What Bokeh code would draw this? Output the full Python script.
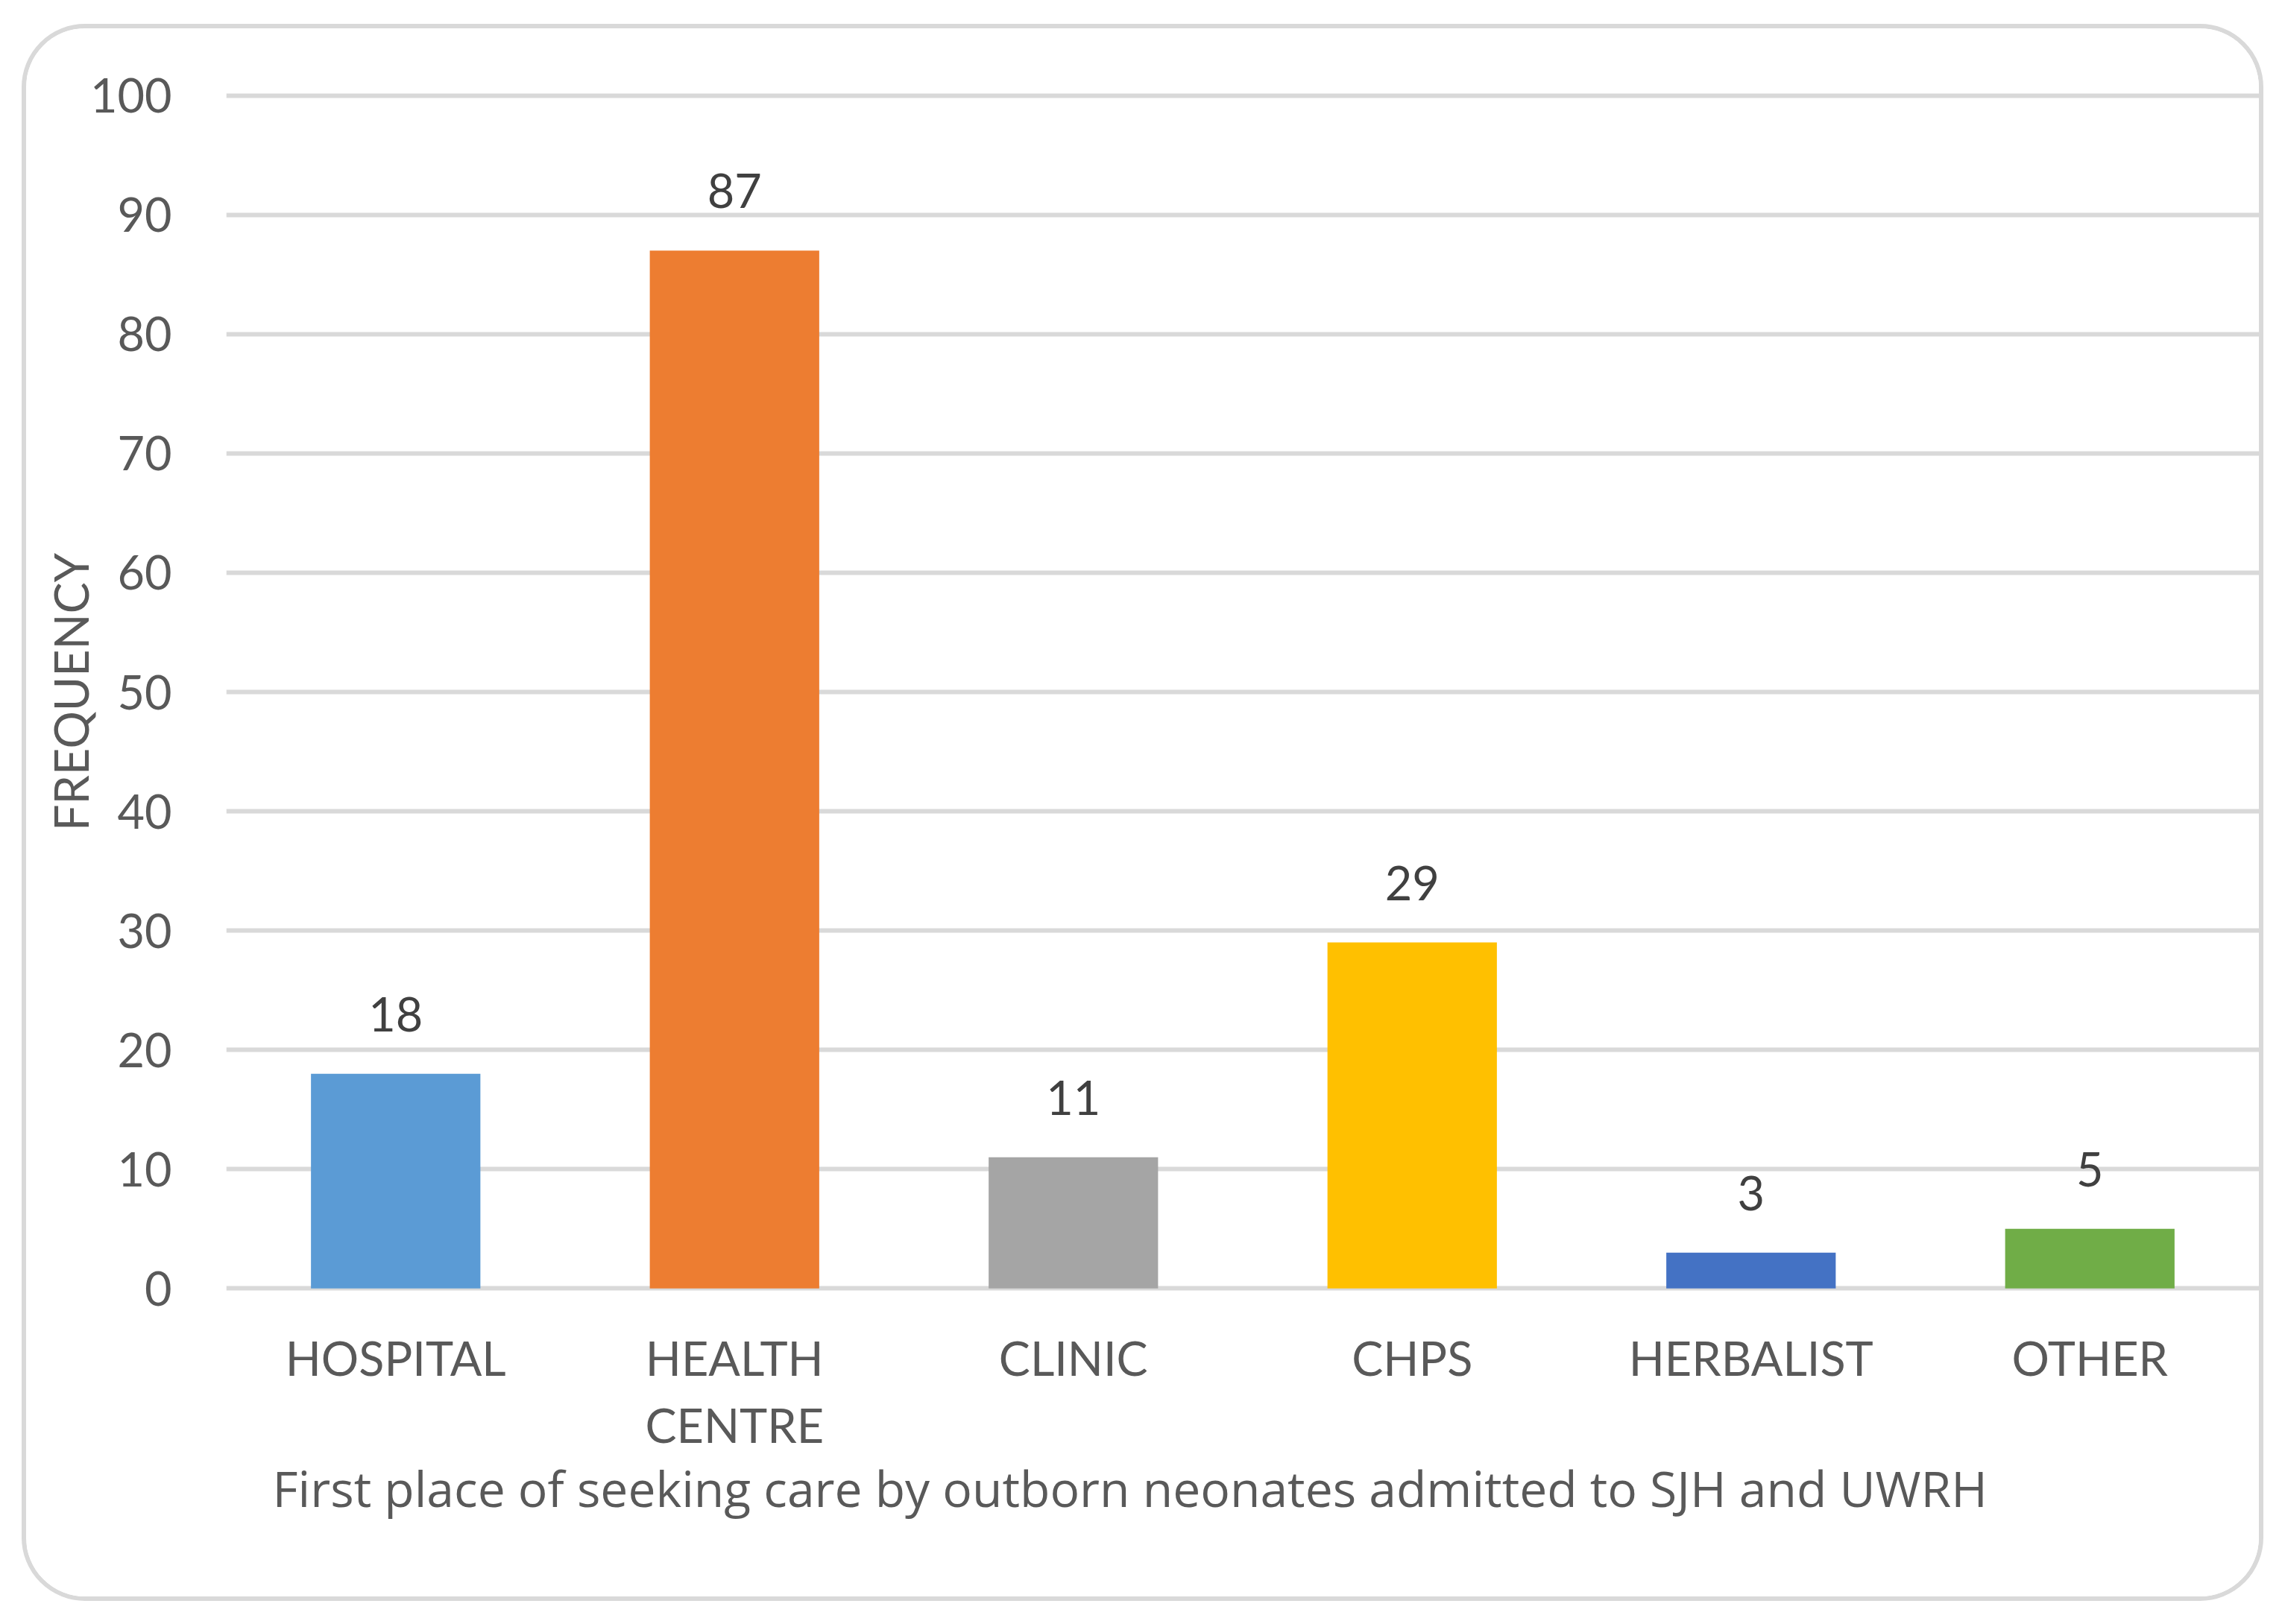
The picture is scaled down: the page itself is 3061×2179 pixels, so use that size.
from bokeh.plotting import figure
from bokeh.models import ColumnDataSource, LabelSet, FactorRange, FixedTicker, CategoricalAxis, Title
from bokeh.embed import file_html
from bokeh.resources import INLINE
from bokeh.core.properties import value

categories = ["HOSPITAL", "HEALTH CENTRE", "CLINIC", "CHPS", "HERBALIST", "OTHER"]
frequencies = [18, 87, 11, 29, 3, 5]
bar_colors = ["#5B9BD5", "#ED7D31", "#A5A5A5", "#FFC000", "#4472C4", "#70AD47"]
y_ticks = [0, 10, 20, 30, 40, 50, 60, 70, 80, 90, 100]
y_title = "FREQUENCY"
x_title = "First place of seeking care by outborn neonates admitted to SJH and UWRH"

# category names wrapped on two lines, as in the original chart
label_line1 = [c.split(" ")[0] for c in categories]
label_line2 = [c.split(" ")[1] if " " in c else " " * (i + 1) for i, c in enumerate(categories)]

FONT = "Lato"
FS = "63px"
TXT = "#595959"

source = ColumnDataSource(dict(
    cat=label_line1,
    freq=frequencies,
    color=bar_colors,
    label=[str(v) for v in frequencies],
))

p = figure(
    x_range=FactorRange(*label_line1),
    y_range=(-0.3, 100.3),
    width=3007, height=2116,
    output_backend="svg", toolbar_location=None,
    min_border_left=268, min_border_right=12,
    min_border_top=85, min_border_bottom=421,
)
p.extra_x_ranges = {"line2": FactorRange(*label_line2)}
p.margin = (32, 0, 0, 29)
p.styles = {"border": "6px solid #d9d9d9", "border-radius": "85px", "overflow": "hidden"}
p.outline_line_color = None
p.background_fill_color = "white"
p.border_fill_color = "white"

p.vbar(x="cat", top="freq", bottom=0, width=0.5, color="color", line_color=None, source=source)

labels = LabelSet(x="cat", y="freq", text="label", source=source, y_offset=57,
                  text_align="center", text_baseline="alphabetic",
                  text_font=value(FONT), text_font_size=value(FS), text_color="#404040")
p.add_layout(labels)

p.xgrid.grid_line_color = None
p.ygrid.grid_line_color = "#d9d9d9"
p.ygrid.grid_line_width = 6
p.ygrid.ticker = FixedTicker(ticks=y_ticks)

p.yaxis.ticker = FixedTicker(ticks=y_ticks)
p.yaxis.axis_line_color = None
p.yaxis.major_tick_line_color = None
p.yaxis.minor_tick_line_color = None
p.yaxis.major_tick_out = 0
p.yaxis.major_tick_in = 0
p.yaxis.major_label_standoff = 73
p.yaxis.major_label_text_font = FONT
p.yaxis.major_label_text_font_size = FS
p.yaxis.major_label_text_color = TXT
p.yaxis.axis_label = y_title
p.yaxis.axis_label_text_font = FONT
p.yaxis.axis_label_text_font_size = FS
p.yaxis.axis_label_text_font_style = "normal"
p.yaxis.axis_label_text_color = TXT
p.yaxis.axis_label_standoff = -14

def style_xaxis(ax, standoff):
    ax.axis_line_color = None
    ax.major_tick_line_color = None
    ax.major_tick_out = 0
    ax.major_tick_in = 0
    ax.major_label_standoff = standoff
    ax.major_label_text_font = FONT
    ax.major_label_text_font_size = FS
    ax.major_label_text_color = TXT

style_xaxis(p.xaxis[0], 50)

x2 = CategoricalAxis(x_range_name="line2")
style_xaxis(x2, 12)
p.add_layout(x2, "below")

title = Title(text=x_title, align="left", offset=62, standoff=-5,
              text_font="Open Sans", text_font_size="66px", text_font_style="normal", text_color=TXT)
p.add_layout(title, "below")

open("out.html", "w").write(file_html(p, INLINE))
